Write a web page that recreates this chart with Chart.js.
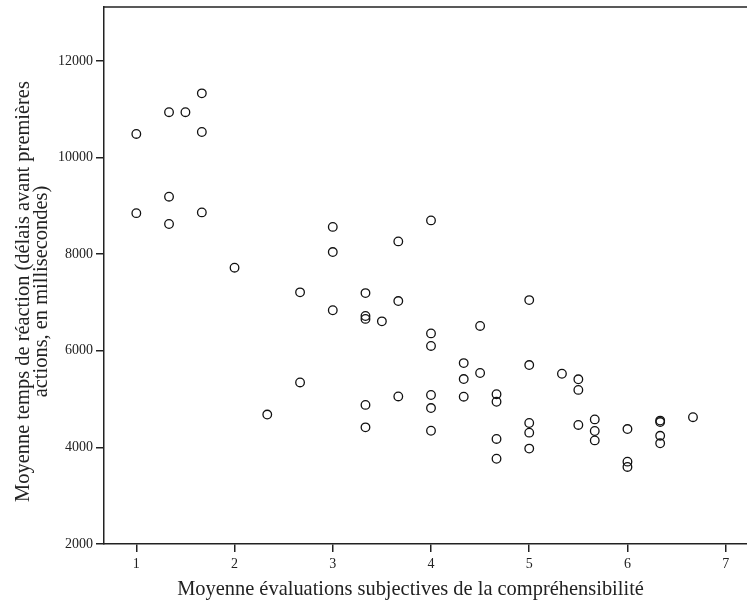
<!DOCTYPE html>
<html lang="fr">
<head>
<meta charset="utf-8">
<title>Temps de réaction vs compréhensibilité</title>
<script src="https://cdn.jsdelivr.net/npm/chart.js@4/dist/chart.umd.min.js"></script>
<style>
  html,body{margin:0;padding:0;background:#fff;}
  #wrap{width:747px;height:605px;position:relative;}
</style>
</head>
<body>
<div id="wrap"><canvas id="c"></canvas></div>
<script>
/* nuage de points : moyenne compréhensibilité (x) / temps de réaction (y, ms) */
const compr = [1,1,1.333,1.5,1.667,1.667,1.333,1.333,1.667,2,
  3,3,3.667,2.667,3.333,3.667,3,3.333,3.333,3.5,
  2.667,3.667,2.333,3.333,3.333,4,5,4,4,4.5,
  4.333,4.333,4.333,4.5,4,4,4,4.667,4.667,4.667,
  4.667,5,5,5,5,5.333,5.5,5.5,5.5,5.667,
  5.667,5.667,6,6,6,6.333,6.333,6.333,6.333,6.667];
const tempsMs = [10490,8850,10940,10940,11330,10530,9190,8625,8865,7720,
  8565,8045,8265,7210,7195,7030,6840,6720,6660,6610,
  5345,5055,4680,4880,4415,8700,7050,6360,6100,6515,
  5745,5415,5050,5540,5085,4815,4345,5100,4945,4175,
  3765,5705,4505,4305,3975,5525,5410,5190,4465,4580,
  4340,4145,4380,3705,3595,4555,4525,4240,4085,4625];
const xTicks = [1,2,3,4,5,6,7];
const yTicks = [2000,4000,6000,8000,10000,12000];
const xTitle = 'Moyenne évaluations subjectives de la compréhensibilité';
const yTitle = ['Moyenne temps de réaction (délais avant premières','actions, en millisecondes)'];

(function(){
  const INK='#222', SERIF='"Liberation Serif", "DejaVu Serif", serif';

  // ligne du haut + titres d'axes (position décalée comme dans l'original)
  const frame={
    id:'frame',
    afterDraw(ch){
      const {ctx,chartArea:a}=ch;
      ctx.save();
      ctx.strokeStyle=INK; ctx.lineWidth=1.5;
      ctx.beginPath(); ctx.moveTo(a.left,a.top); ctx.lineTo(a.right,a.top); ctx.stroke();
      ctx.fillStyle=INK; ctx.textAlign='center'; ctx.textBaseline='middle';
      ctx.font='17px '+SERIF;
      const fx=467/ctx.measureText(xTitle).width;
      ctx.font=(17*fx).toFixed(2)+'px '+SERIF;
      ctx.fillText(xTitle,(a.left+a.right)/2-15,590);
      ctx.translate(0,(a.top+a.bottom)/2+16);
      ctx.rotate(-Math.PI/2);
      ctx.fillText(yTitle[0],0,24);
      ctx.fillText(yTitle[1],0,42);
      ctx.restore();
    }
  };

  const axisCommon={
    border:{display:true,color:INK,width:1.5},
    grid:{display:true,drawOnChartArea:false,drawTicks:true,tickLength:8,color:INK,lineWidth:1.5},
  };
  const noPad=s=>{s.paddingLeft=0;s.paddingRight=0;s.paddingTop=0;s.paddingBottom=0;};

  new Chart(document.getElementById('c'),{
    type:'scatter',
    data:{datasets:[{
      data:compr.map((x,i)=>({x,y:tempsMs[i]})),
      pointStyle:'circle',pointRadius:4.3,pointHoverRadius:4.3,
      borderColor:'#111',borderWidth:1.3,backgroundColor:'rgba(0,0,0,0)'
    }]},
    options:{
      responsive:true,maintainAspectRatio:false,animation:false,
      layout:{autoPadding:false,padding:{top:7,right:0,left:0,bottom:0}},
      plugins:{legend:{display:false},tooltip:{enabled:false}},
      scales:{
        x:{...axisCommon,type:'linear',min:0.671,max:7.217,
          afterBuildTicks:s=>{s.ticks=xTicks.map(v=>({value:v}));},
          afterFit:s=>{s.height=61;noPad(s);},
          ticks:{color:INK,padding:4,font:{family:SERIF,size:14},callback:v=>String(v)}},
        y:{...axisCommon,type:'linear',min:2000,max:13118,
          afterBuildTicks:s=>{s.ticks=yTicks.map(v=>({value:v}));},
          afterFit:s=>{s.width=104;noPad(s);},
          ticks:{color:INK,padding:3,font:{family:SERIF,size:14},callback:v=>String(v)}}
      }
    },
    plugins:[frame]
  });
})();
</script>
</body>
</html>
